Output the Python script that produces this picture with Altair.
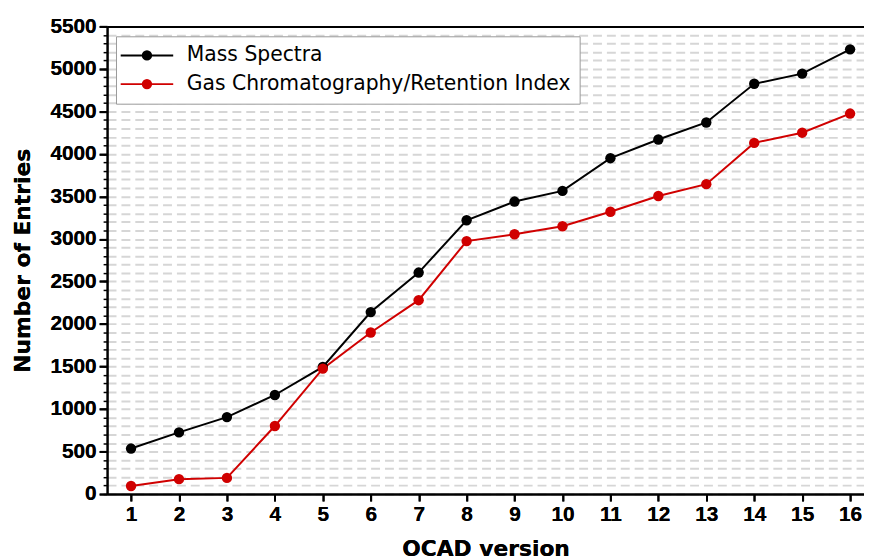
import altair as alt
import pandas as pd

versions = list(range(1, 17))
mass_spectra = [535, 725, 905, 1165, 1495, 2140, 2605, 3220, 3440, 3565, 3950, 4170, 4370, 4825, 4945, 5230]
gc_ri = [95, 175, 190, 800, 1475, 1900, 2280, 2975, 3055, 3150, 3320, 3505, 3645, 4130, 4250, 4475]
series_names = ["Mass Spectra", "Gas Chromatography/Retention Index"]
series_colors = ["#000000", "#d00000"]
y_major = list(range(0, 5501, 500))
y_minor = list(range(0, 5501, 100))

rows = []
for name, vals in zip(series_names, [mass_spectra, gc_ri]):
    for v, n in zip(versions, vals):
        rows.append({"version": v, "entries": n, "series": name})
df = pd.DataFrame(rows)

TICK_FONT = "Liberation Sans"
TITLE_FONT = "DejaVu Sans"

xscale = alt.Scale(domain=[0.5, 16.29], nice=False, zero=False)
yscale = alt.Scale(domain=[0, 5500], nice=False)
cscale = alt.Scale(domain=series_names, range=series_colors)

legend_symbol = "M-5.3,0H5.3M-0.85,0A0.85,0.85,0,1,0,0.85,0A0.85,0.85,0,1,0,-0.85,0Z"

x_main = alt.X(
    "version:Q", scale=xscale,
    axis=alt.Axis(
        values=versions, format="d", title="OCAD version", orient="bottom",
        grid=False, domainColor="black", domainWidth=2, tickColor="black",
        tickWidth=2, tickSize=7, labelFont=TICK_FONT, labelFontWeight="bold",
        labelFontSize=21, labelColor="black", labelPadding=3,
        titleFont=TITLE_FONT, titleFontWeight="bold", titleFontSize=22,
        titleColor="black", titlePadding=14,
    ),
)
y_main = alt.Y(
    "entries:Q", scale=yscale,
    axis=alt.Axis(
        values=y_major, format="d", title="Number of Entries", orient="left",
        grid=False, domainColor="black", domainWidth=2, tickColor="black",
        tickWidth=2, tickSize=8, labelFont=TICK_FONT, labelFontWeight="bold",
        labelFontSize=21, labelColor="black", labelPadding=3,
        titleFont=TITLE_FONT, titleFontWeight="bold", titleFontSize=22,
        titleColor="black", titlePadding=16,
    ),
)
color = alt.Color(
    "series:N", scale=cscale,
    legend=alt.Legend(
        title="", orient="none", legendX=9, legendY=10,
        symbolType=legend_symbol, symbolSize=100, symbolStrokeWidth=2,
        labelFont=TITLE_FONT, labelFontSize=20.5, labelColor="black",
        labelOffset=30, symbolOffset=12, padding=9, rowPadding=8,
        strokeColor="#999999", fillColor="white", labelLimit=600,
    ),
)

base = alt.Chart(df)

lines = base.mark_line(strokeWidth=2).encode(x=x_main, y=y_main, color=color, detail="series:N")
points = base.mark_circle(size=110, opacity=1).encode(x=x_main, y=y_main, color=color)

minor = base.mark_point(opacity=0).encode(
    x=alt.X("version:Q", scale=xscale, axis=alt.Axis(
        orient="top", title="", labels=False, ticks=False, grid=False,
        domainColor="black", domainWidth=2)),
    y=alt.Y("entries:Q", scale=yscale, axis=alt.Axis(
        orient="left", title="", values=y_minor, labels=False, domain=False,
        tickColor="black", tickWidth=1.5, tickSize=4,
        grid=True, gridColor="#d6d6d6", gridWidth=2, gridDash=[9, 5])),
)

chart = alt.layer(minor, lines, points).resolve_scale(
    x="shared", y="shared", color="shared"
).resolve_axis(x="independent", y="independent").properties(
    width=764, height=472,
    autosize=alt.AutoSizeParams(type="none"),
    padding={"left": 100, "top": 16, "right": 0, "bottom": 64},
).configure_view(stroke=None).configure(background="white")

chart.save("out.html", embed_options={"renderer": "svg", "actions": False})
